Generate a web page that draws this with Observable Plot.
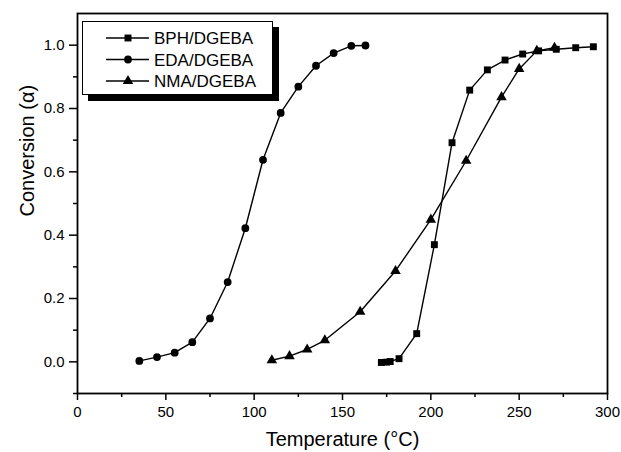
<!DOCTYPE html>
<html>
<head>
<meta charset="utf-8">
<script src="https://cdn.jsdelivr.net/npm/d3@7"></script>
<script src="https://cdn.jsdelivr.net/npm/@observablehq/plot@0.6"></script>
<style>
  html, body { margin: 0; padding: 0; background: #fff; }
  #wrap { position: relative; width: 621px; height: 452px; font-family: "Liberation Sans", Arial, sans-serif; }
  #legend { position: absolute; left: 82px; top: 21px; width: 189px; height: 72px; background: #fff;
            border: 1.3px solid #000; box-shadow: 6px 6px 0 #000; }
</style>
</head>
<body>
<div id="wrap"><div id="legend"></div></div>
<script>
// ---- data ----
const seriesNames = ["BPH/DGEBA", "EDA/DGEBA", "NMA/DGEBA"];
const seriesSymbols = ["square", "circle", "triangle"];

const bphT = [172, 175, 177, 182, 192, 202, 212, 222, 232, 242, 252, 261, 271, 282, 292];
const bphA = [-0.002, -0.001, 0.001, 0.010, 0.089, 0.370, 0.692, 0.858, 0.922, 0.953, 0.972, 0.982, 0.987, 0.992, 0.995];

const edaT = [35, 45, 55, 65, 75, 85, 95, 105, 115, 125, 135, 145, 155, 163];
const edaA = [0.003, 0.015, 0.029, 0.062, 0.137, 0.252, 0.422, 0.638, 0.786, 0.869, 0.935, 0.975, 0.998, 0.999];

const nmaT = [110, 120, 130, 140, 160, 180, 200, 220, 240, 250, 260, 270];
const nmaA = [0.005, 0.018, 0.039, 0.068, 0.158, 0.287, 0.449, 0.635, 0.836, 0.925, 0.982, 0.992];

const xMajorTicks = [0, 50, 100, 150, 200, 250, 300];
const xMinorTicks = [25, 75, 125, 175, 225, 275];
const yMajorTicks = [0.0, 0.2, 0.4, 0.6, 0.8, 1.0];
const yMinorTicks = [-0.1, 0.1, 0.3, 0.5, 0.7, 0.9];

const xTitle = "Temperature (°C)";
const yTitle = "Conversion (α)";

// ---- build table ----
const rows = [];
[[bphT, bphA], [edaT, edaA], [nmaT, nmaA]].forEach(([ts, as], i) => {
  ts.forEach((t, j) => rows.push({series: seriesNames[i], sym: seriesSymbols[i], t, a: as[j]}));
});

const chart = Plot.plot({
  width: 621,
  height: 452,
  marginLeft: 77,
  marginRight: 14,
  marginTop: 13,
  marginBottom: 59,
  x: {domain: [0, 300]},
  y: {domain: [-0.1, 1.1]},
  symbol: {domain: seriesSymbols, range: seriesSymbols},
  style: {fontFamily: "Liberation Sans, Arial, sans-serif", fontSize: "15px", background: "white", color: "black", overflow: "visible"},
  marks: [
    Plot.axisX({ticks: xMinorTicks, tickSize: 4, tickFormat: () => "", label: null, strokeWidth: 1.5}),
    Plot.axisX({ticks: xMajorTicks, tickSize: 7, tickPadding: 6, tickFormat: d => String(d), strokeWidth: 1.5, label: null}),
    Plot.axisY({ticks: yMinorTicks, tickSize: 4, tickFormat: () => "", label: null, strokeWidth: 1.5}),
    Plot.axisY({ticks: yMajorTicks, tickSize: 8, tickPadding: 5, tickFormat: d3.format(".1f"), strokeWidth: 1.5, label: null}),
    Plot.frame({stroke: "black", strokeWidth: 1.8}),
    Plot.line(rows, {x: "t", y: "a", z: "series", stroke: "black", strokeWidth: 1.4}),
    Plot.dot(rows, {x: "t", y: "a", symbol: "sym", fill: "black", stroke: "none", r: 3.9}),
    Plot.text([xTitle], {frameAnchor: "bottom", dy: 52, fontSize: 20, fill: "black", text: d => d}),
    Plot.text([yTitle], {frameAnchor: "left", rotate: -90, dx: -50, dy: 13, fontSize: 20, fill: "black", text: d => d})
  ]
});
document.getElementById("wrap").prepend(chart);

// ---- legend ----
const leg = d3.select("#legend").append("svg").attr("width", 189).attr("height", 72)
  .style("display", "block").style("overflow", "visible");
seriesNames.forEach((name, i) => {
  const cy = 16 + i * 21.5;
  const g = leg.append("g").attr("transform", `translate(0,${cy})`);
  g.append("line").attr("x1", 23).attr("x2", 66).attr("y1", 0).attr("y2", 0).attr("stroke", "black").attr("stroke-width", 1.4);
  const sym = {square: d3.symbolSquare, circle: d3.symbolCircle, triangle: d3.symbolTriangle}[seriesSymbols[i]];
  g.append("path").attr("transform", "translate(45,0)").attr("d", d3.symbol(sym, Math.PI * 3.9 * 3.9)()).attr("fill", "black");
  g.append("text").attr("x", 71).attr("y", 0).attr("dy", "0.36em").attr("font-size", 17)
    .attr("font-family", "Liberation Sans, Arial, sans-serif").text(name);
});
</script>
</body>
</html>
